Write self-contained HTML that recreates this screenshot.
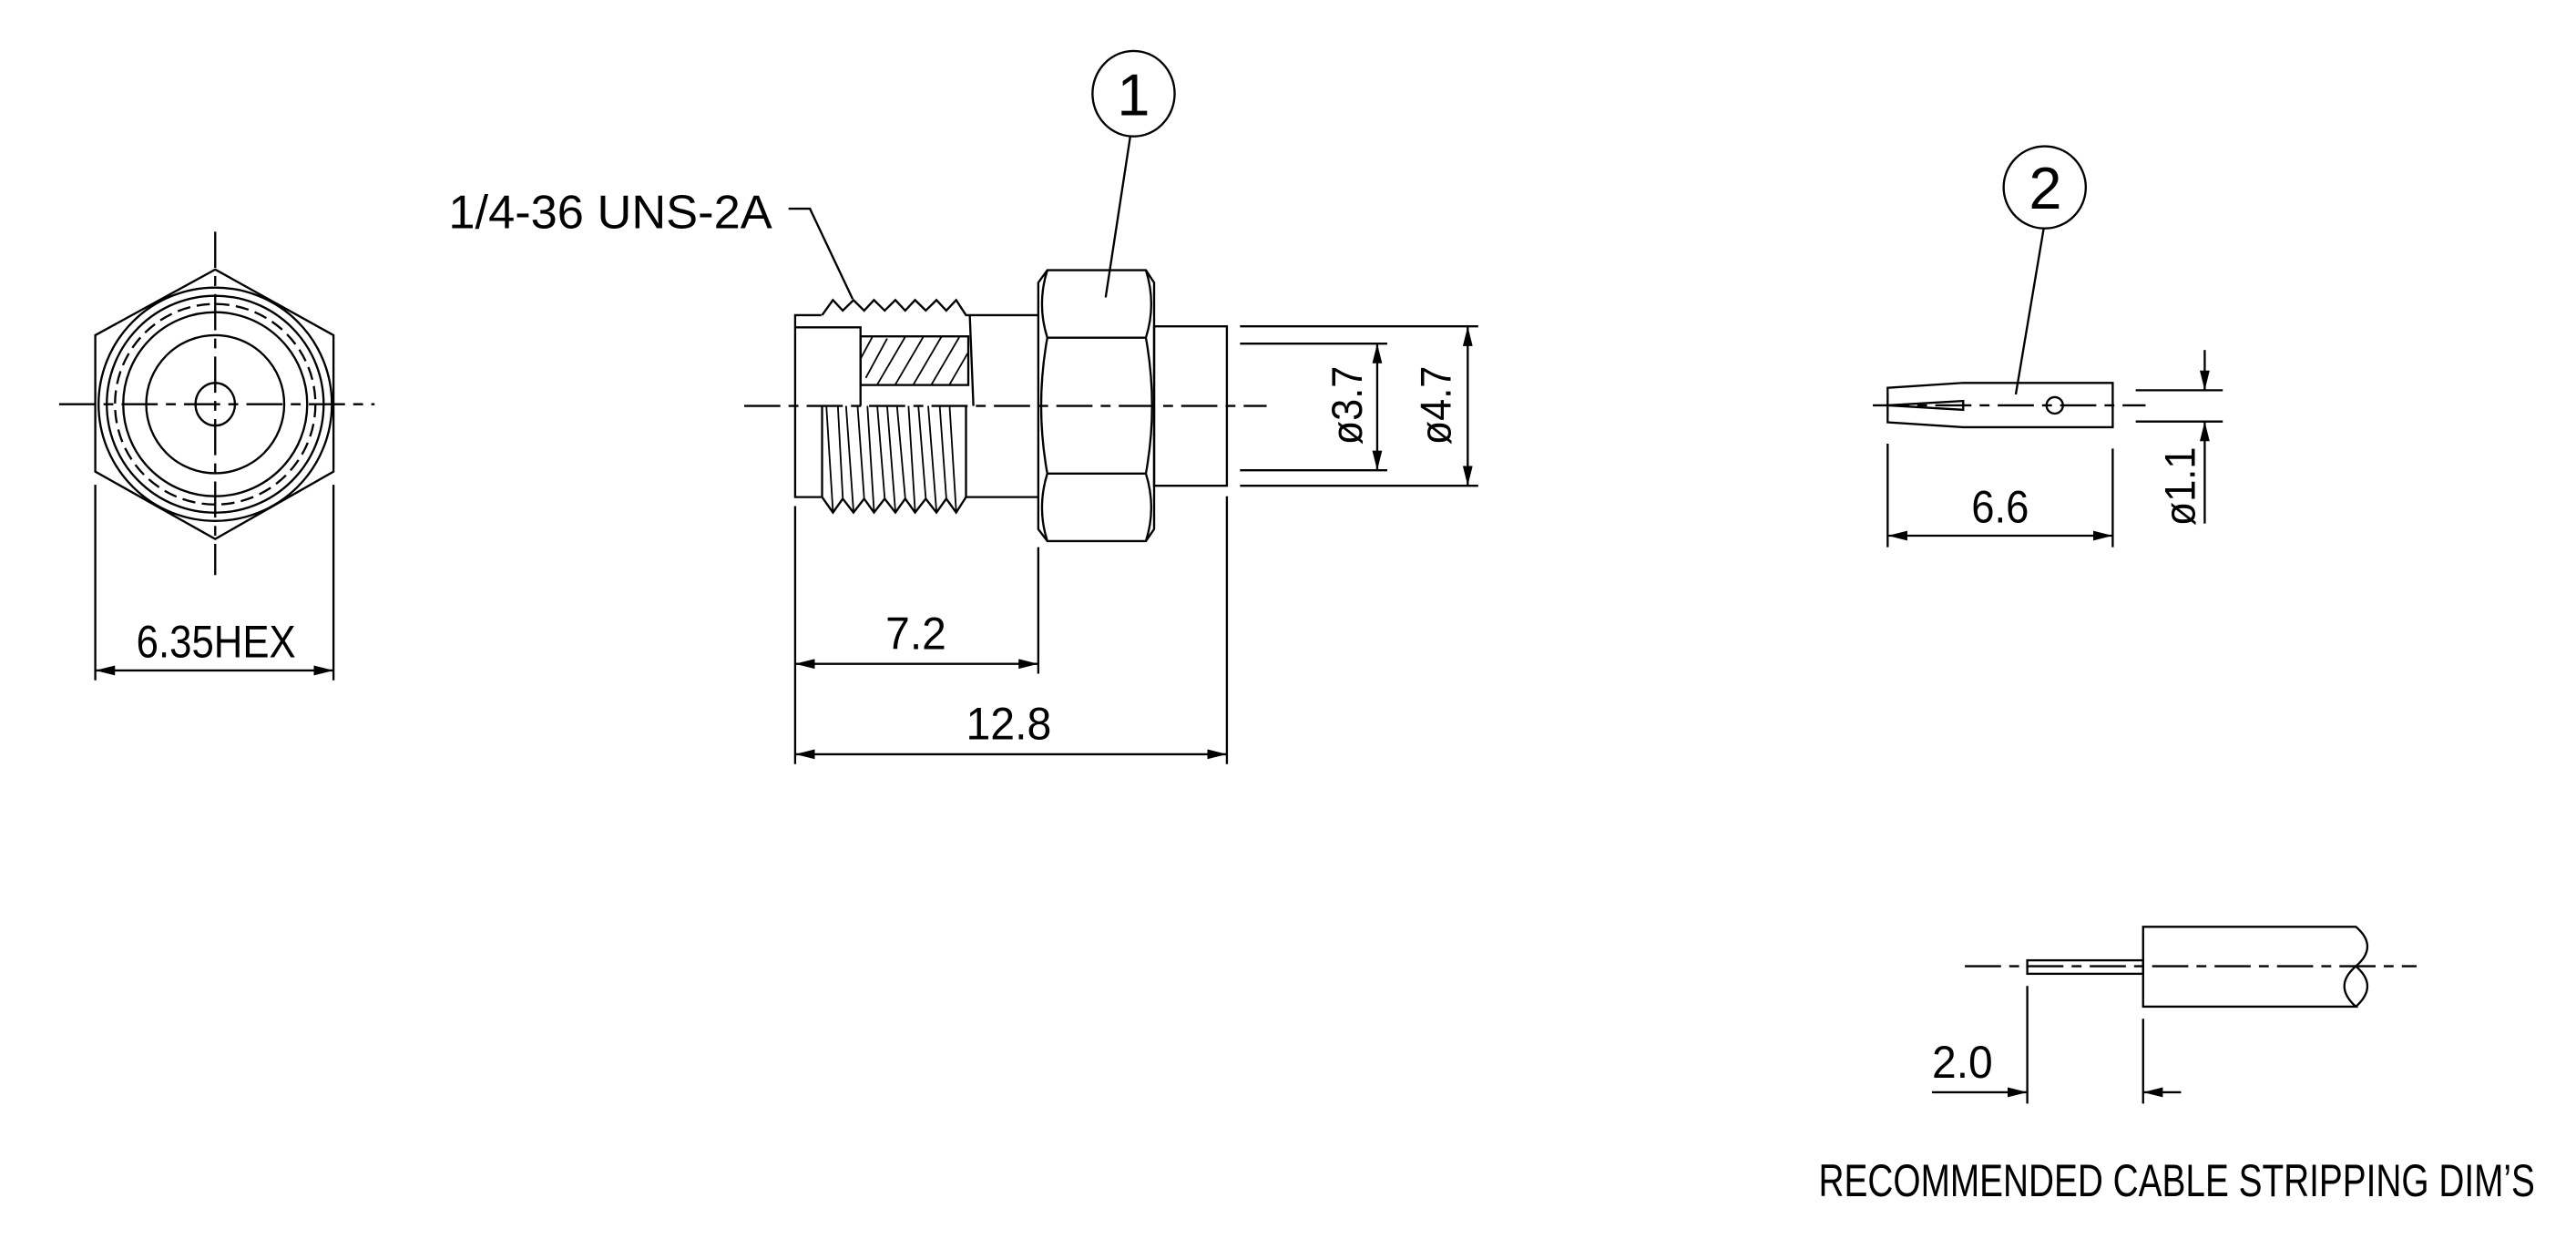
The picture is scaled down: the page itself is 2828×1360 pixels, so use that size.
<!DOCTYPE html>
<html><head><meta charset="utf-8"><style>
html,body{margin:0;padding:0;background:#fff;}
svg{display:block;}
text{font-family:"Liberation Sans",sans-serif;fill:#000;}
</style></head><body>
<svg width="2828" height="1360" viewBox="0 0 1568 754" preserveAspectRatio="none" xmlns="http://www.w3.org/2000/svg">
<defs>
<marker id="a" viewBox="0 0 12 6" refX="12" refY="3" markerWidth="12" markerHeight="6" markerUnits="userSpaceOnUse" orient="auto-start-reverse"><path d="M0,0 L12,3 L0,6 Z" fill="#000"/></marker>
</defs>
<g fill="none" stroke="#000" stroke-width="1.3">
<!-- HEX END VIEW -->
<polygon points="131,164 203,204 203,287 131,328 58,287 58,204"/>
<circle cx="131" cy="246" r="71"/>
<circle cx="131" cy="246" r="66"/>
<circle cx="131" cy="246" r="61" stroke-dasharray="8,4"/>
<circle cx="131" cy="246" r="56"/>
<circle cx="131" cy="246" r="42"/>
<ellipse cx="131" cy="246" rx="12" ry="13"/>
<line x1="36" y1="246" x2="228" y2="246" stroke-dasharray="22,5,6,5"/>
<line x1="131" y1="141" x2="131" y2="350" stroke-dasharray="22,5,6,5"/>
<line x1="58" y1="295" x2="58" y2="414"/>
<line x1="203" y1="295" x2="203" y2="414"/>
<line x1="58" y1="408" x2="203" y2="408" marker-start="url(#a)" marker-end="url(#a)"/>

<!-- MAIN CONNECTOR -->
<polyline points="500,191.8 484,191.8 484,302.5 500,302.5"/>
<polyline points="484,199.2 523.8,199.2 523.8,247"/>
<rect x="523.8" y="204.7" width="65.6" height="29.6"/>
<g stroke-width="1">
<line x1="527" y1="230" x2="540" y2="206"/><line x1="534" y1="234" x2="551" y2="205"/><line x1="545" y1="234" x2="562" y2="205"/><line x1="556" y1="234" x2="573" y2="205"/><line x1="567" y1="234" x2="584" y2="205"/><line x1="578" y1="234" x2="589" y2="215"/><line x1="524" y1="218" x2="531" y2="205"/>
</g>
<polyline points="500.4,191.8 507,182.6 513,189 519.5,182.6 526,189 532,182.6 538.5,189 545,182.6 551,189 557,182.6 563.5,189 570,182.6 576,189 582,182.6 588,191.8 632,191.8"/>
<line x1="590.3" y1="191.8" x2="592.5" y2="247"/>
<polyline points="500.4,302.5 507,311.9 513,303.5 519.5,311.9 526,303.5 532,311.9 538.5,303.5 545,311.9 551,303.5 557,311.9 563.5,303.5 570,311.9 576,303.5 582,311.9 588,302.5 632,302.5"/>
<line x1="500.4" y1="247" x2="500.4" y2="302.5"/>
<line x1="588" y1="247" x2="588" y2="302.5"/>
<g stroke-width="1">
<line x1="503" y1="247" x2="507" y2="311"/><line x1="510" y1="247" x2="513" y2="303"/>
<line x1="515" y1="247" x2="519.5" y2="311"/><line x1="522" y1="247" x2="526" y2="303"/>
<line x1="528" y1="247" x2="532" y2="311"/><line x1="534" y1="247" x2="538.5" y2="303"/>
<line x1="540" y1="247" x2="545" y2="311"/><line x1="546" y1="247" x2="551" y2="303"/>
<line x1="553" y1="247" x2="557" y2="311"/><line x1="559" y1="247" x2="563.5" y2="303"/>
<line x1="565" y1="247" x2="570" y2="311"/><line x1="572" y1="247" x2="576" y2="303"/>
<line x1="578" y1="247" x2="582" y2="311"/>
</g>
<!-- hex nut -->
<path d="M637.5,164.4 H697.5 L702.5,172 V322 L697.5,329.3 H637.5 L632,322 V172 Z"/>
<line x1="637.5" y1="205.5" x2="697.5" y2="205.5"/>
<line x1="637.5" y1="288.2" x2="697.5" y2="288.2"/>
<path d="M637.5,164.4 Q631,185 637.5,205.5 Q630,247 637.5,288.2 Q631,309 637.5,329.3"/>
<path d="M697.5,164.4 Q704,185 697.5,205.5 Q705,247 697.5,288.2 Q704,309 697.5,329.3"/>
<!-- rear body -->
<rect x="702.5" y="198.6" width="44.3" height="97"/>
<line x1="754.8" y1="198.6" x2="899.8" y2="198.6"/>
<line x1="754.8" y1="295.6" x2="899.8" y2="295.6"/>
<line x1="754.8" y1="209.1" x2="844.4" y2="209.1"/>
<line x1="754.8" y1="286.2" x2="844.4" y2="286.2"/>
<line x1="838.3" y1="209.1" x2="838.3" y2="286.2" marker-start="url(#a)" marker-end="url(#a)"/>
<line x1="893.4" y1="198.6" x2="893.4" y2="295.6" marker-start="url(#a)" marker-end="url(#a)"/>
<line x1="453" y1="247" x2="771" y2="247" stroke-dasharray="22,5,6,5"/>
<!-- dims -->
<line x1="484" y1="308" x2="484" y2="465"/>
<line x1="632" y1="333" x2="632" y2="410"/>
<line x1="746.8" y1="302" x2="746.8" y2="465"/>
<line x1="484" y1="404" x2="632" y2="404" marker-start="url(#a)" marker-end="url(#a)"/>
<line x1="484" y1="459" x2="746.8" y2="459" marker-start="url(#a)" marker-end="url(#a)"/>
<!-- balloon 1 -->
<ellipse cx="690" cy="57" rx="25" ry="26"/>
<line x1="688" y1="83" x2="673" y2="181"/>
<polyline points="480,127 493,127 519,182"/>

<!-- PIN -->
<path d="M1149,236 L1195,233 H1286 V260 H1195 L1149,257 Z"/>
<polygon points="1149,246.7 1195,244 1195,249.4"/>
<circle cx="1250.7" cy="246.7" r="5"/>
<line x1="1140" y1="246.7" x2="1306" y2="246.7" stroke-dasharray="22,5,6,5"/>
<line x1="1300" y1="237.5" x2="1353" y2="237.5"/>
<line x1="1300" y1="256.5" x2="1353" y2="256.5"/>
<line x1="1342" y1="213" x2="1342" y2="237.5" marker-end="url(#a)"/>
<line x1="1342" y1="318.6" x2="1342" y2="256.5" marker-end="url(#a)"/>
<line x1="1149" y1="270" x2="1149" y2="333"/>
<line x1="1286" y1="273" x2="1286" y2="333"/>
<line x1="1149" y1="326" x2="1286" y2="326" marker-start="url(#a)" marker-end="url(#a)"/>
<ellipse cx="1244.6" cy="114" rx="25" ry="25"/>
<line x1="1244" y1="139" x2="1227" y2="240"/>

<!-- CABLE -->
<path d="M1304.5,564 H1434 Q1448,576 1434,588 Q1420,600 1434,612.6 H1304.5 Z"/>
<path d="M1434,588 Q1448,600 1434,612.6"/>
<rect x="1234" y="584.4" width="70.5" height="8.2"/>
<line x1="1196" y1="588" x2="1471" y2="588" stroke-dasharray="22,5,6,5"/>
<line x1="1234" y1="600" x2="1234" y2="671.6"/>
<line x1="1304.5" y1="620" x2="1304.5" y2="671.6"/>
<line x1="1176" y1="664.7" x2="1234" y2="664.7" marker-end="url(#a)"/>
<line x1="1327.6" y1="664.7" x2="1304.5" y2="664.7" marker-end="url(#a)"/>
</g>

<!-- TEXT -->
<text x="273" y="139" font-size="29" textLength="197" lengthAdjust="spacingAndGlyphs">1/4-36 UNS-2A</text>
<text x="83" y="400" font-size="28" textLength="97" lengthAdjust="spacingAndGlyphs">6.35HEX</text>
<text x="539" y="395" font-size="28" textLength="37" lengthAdjust="spacingAndGlyphs">7.2</text>
<text x="588" y="450" font-size="28" textLength="52" lengthAdjust="spacingAndGlyphs">12.8</text>
<text x="1200" y="318" font-size="28" textLength="35" lengthAdjust="spacingAndGlyphs">6.6</text>
<text x="1176" y="656" font-size="28" textLength="37" lengthAdjust="spacingAndGlyphs">2.0</text>
<text x="1107" y="728" font-size="28" textLength="436" lengthAdjust="spacingAndGlyphs">RECOMMENDED CABLE STRIPPING DIM’S</text>
<text x="690" y="70" font-size="36" text-anchor="middle">1</text>
<text x="1245" y="127" font-size="36" text-anchor="middle">2</text>
<text transform="translate(829,270.7) rotate(-90)" font-size="26" textLength="48" lengthAdjust="spacingAndGlyphs">ø3.7</text>
<text transform="translate(883,270.7) rotate(-90)" font-size="26" textLength="48" lengthAdjust="spacingAndGlyphs">ø4.7</text>
<text transform="translate(1336,320) rotate(-90)" font-size="26" textLength="48" lengthAdjust="spacingAndGlyphs">ø1.1</text>
</svg>
</body></html>
